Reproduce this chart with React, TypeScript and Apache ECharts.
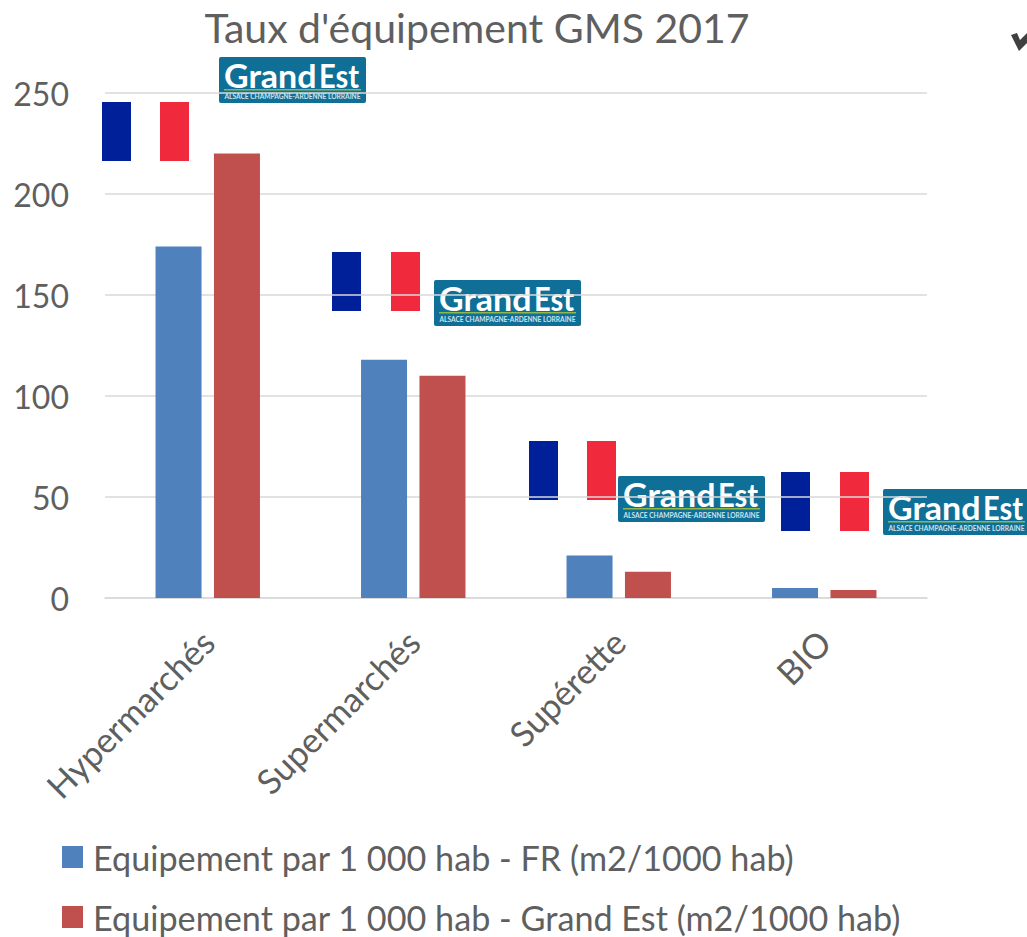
import React, { useEffect, useRef } from "react";
import * as echarts from "echarts";

const categories = ["Hypermarchés", "Supermarchés", "Supérette", "BIO"];
const seriesFR = [174, 118, 21, 5];
const seriesGE = [220, 110, 13, 4];
const nameFR = "Equipement par 1 000 hab - FR (m2/1000 hab)";
const nameGE = "Equipement par 1 000 hab - Grand Est (m2/1000 hab)";
const titleText = "Taux d'équipement GMS 2017";
const FONT = "Lato, 'Open Sans', sans-serif";
const TEXT = "#5f5f5f";

const flag = (x: number, y: number, offset: number) => ({
  type: "group",
  x,
  y,
  silent: true,
  children: [
    { type: "rect", shape: { x: 0, y: 0, width: 29, height: 59 }, style: { fill: "#00209a" } },
    { type: "rect", shape: { x: offset, y: 0, width: 29, height: 59 }, style: { fill: "#f02a3c" } },
  ],
});

const logo = (x: number, y: number) => ({
  type: "group",
  x,
  y,
  silent: true,
  children: [
    { type: "rect", shape: { x: 0, y: 0, width: 147, height: 46, r: 2 }, style: { fill: "#0f6f97" } },
    {
      type: "text",
      x: 5,
      y: 18,
      scaleX: 1.03,
      style: { text: "Grand", fill: "#ffffff", font: `bold 33px ${FONT}`, textAlign: "left", textVerticalAlign: "middle" },
    },
    {
      type: "text",
      x: 100,
      y: 18,
      scaleX: 0.88,
      style: { text: "Est", fill: "#ffffff", font: `bold 33px ${FONT}`, textAlign: "left", textVerticalAlign: "middle" },
    },
    { type: "rect", shape: { x: 5, y: 32, width: 137, height: 1.5 }, style: { fill: "#8fb84a" } },
    {
      type: "text",
      x: 73.5,
      y: 35.5,
      style: {
        text: "ALSACE CHAMPAGNE-ARDENNE LORRAINE",
        fill: "#cfe2ea",
        font: `bold 6.6px ${FONT}`,
        textAlign: "center",
        textVerticalAlign: "top",
      },
    },
  ],
});

const legendBase = {
  orient: "vertical",
  left: 62,
  padding: 0,
  itemWidth: 21,
  itemHeight: 22,
  selectedMode: false,
  icon: "rect",
  textStyle: { fontSize: 34.2, color: TEXT, padding: [0, 0, 0, 5], fontFamily: FONT },
};

export default function App() {
  const ref = useRef<HTMLDivElement>(null);
  useEffect(() => {
    const chart = echarts.init(ref.current!, undefined, { renderer: "svg" });
    chart.setOption({
      animation: false,
      backgroundColor: "#ffffff",
      textStyle: { fontFamily: FONT },
      title: {
        text: titleText,
        left: 472,
        top: 2,
        textAlign: "center",
        textStyle: { fontSize: 41, fontWeight: "normal", color: TEXT, fontFamily: FONT },
      },
      grid: { left: 105, right: 100, top: 93, bottom: 339, containLabel: false },
      xAxis: {
        type: "category",
        data: categories,
        axisTick: { show: false },
        axisLine: { lineStyle: { color: "#d9d9d9", width: 1.5 } },
        axisLabel: {
          rotate: 45,
          interval: 0,
          margin: 38,
          fontSize: 34.5,
          color: TEXT,
          fontFamily: FONT,
        },
      },
      yAxis: {
        type: "value",
        min: 0,
        max: 250,
        interval: 50,
        axisLine: { show: false },
        axisTick: { show: false },
        splitLine: { lineStyle: { color: "#d9d9d9", width: 1.5 } },
        axisLabel: { fontSize: 32, color: TEXT, margin: 36, padding: [0, 0, 4, 0], fontFamily: FONT },
      },
      legend: [
        { ...legendBase, top: 840, data: [nameFR] },
        { ...legendBase, top: 900, data: [nameGE] },
      ],
      series: [
        { type: "bar", name: nameFR, data: seriesFR, barWidth: 46, barGap: "27%", itemStyle: { color: "#4f81bd" } },
        { type: "bar", name: nameGE, data: seriesGE, barWidth: 46, itemStyle: { color: "#c0504d" } },
      ],
      graphic: [
        flag(102, 102, 58),
        flag(332, 252, 59),
        flag(529, 441, 58),
        flag(781, 472, 59),
        logo(219, 57),
        logo(434, 280),
        logo(618, 476),
        logo(883, 489),
        {
          type: "polygon",
          silent: true,
          shape: {
            points: [
              [1011, 35],
              [1017, 33],
              [1020, 40],
              [1027, 33],
              [1027, 43],
              [1019, 51],
            ],
          },
          style: { fill: "#404040" },
        },
      ],
    });
    return () => chart.dispose();
  }, []);
  return (
    <div
      ref={ref}
      style={{ position: "absolute", left: 0, top: 0, width: 1027, height: 937 }}
    />
  );
}
